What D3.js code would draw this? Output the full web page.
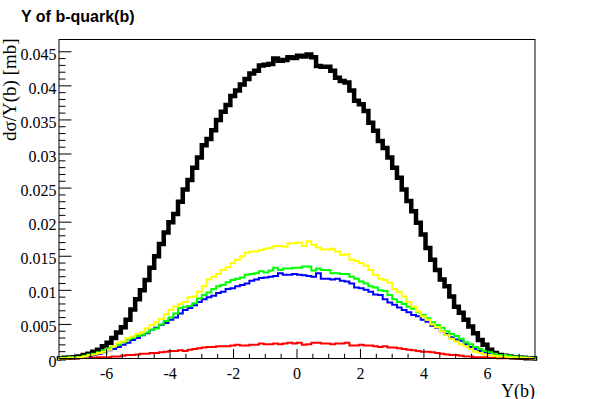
<!DOCTYPE html>
<html>
<head>
<meta charset="utf-8">
<script src="https://cdn.jsdelivr.net/npm/d3@7"></script>
<style>
  html, body { margin: 0; padding: 0; background: #fff; }
  svg { display: block; }
</style>
</head>
<body>
<div id="chart"></div>
<script>
// binning of the histograms: 100 bins over [-7.5, 7.5]
const xMin = -7.5, xMax = 7.5, nBins = 100;

const xTicks = [-6, -4, -2, 0, 2, 4, 6];
const xTickLabels = ["-6", "-4", "-2", "0", "2", "4", "6"];
const yTicks = [0, 0.005, 0.01, 0.015, 0.02, 0.025, 0.03, 0.035, 0.04, 0.045];
const yTickLabels = ["0", "0.005", "0.01", "0.015", "0.02", "0.025", "0.03", "0.035", "0.04", "0.045"];

// bin contents (dsigma/Y per bin, mb)
const black = [
  0.00005,0.0001,0.00015,0.0002,0.0003,0.0005,0.0007,0.0010,0.0013,0.0018,
  0.0023,0.0030,0.0038,0.0046,0.0057,0.0072,0.0087,0.0100,0.0115,0.0133,
  0.0150,0.0168,0.0185,0.0200,0.0212,0.0230,0.0248,0.0262,0.0280,0.0295,
  0.0313,0.0322,0.0335,0.0350,0.0362,0.0372,0.0385,0.0393,0.0402,0.0410,
  0.0418,0.0422,0.0430,0.0431,0.0432,0.0440,0.0437,0.0438,0.0442,0.0441,
  0.0444,0.0443,0.0446,0.0442,0.0429,0.0428,0.0428,0.0422,0.0412,0.0407,
  0.0405,0.0393,0.0378,0.0373,0.0363,0.0346,0.0334,0.0319,0.0309,0.0295,
  0.0280,0.0265,0.0248,0.0231,0.0216,0.0199,0.0182,0.0162,0.0145,0.0130,
  0.0116,0.0106,0.0091,0.0076,0.0067,0.0057,0.0047,0.0037,0.0027,0.0020,
  0.0013,0.0008,0.0005,0.0004,0.0003,0.0002,0.00015,0.0001,0.00005,0.00003
];
const yellow = [
  0.00005,0.00005,0.0001,0.0001,0.0002,0.0003,0.0005,0.0006,0.0008,0.0010,
  0.0013,0.0018,0.0023,0.0025,0.0030,0.0032,0.0036,0.0039,0.0044,0.0049,
  0.0053,0.0058,0.0065,0.0071,0.0076,0.0080,0.0083,0.0090,0.0091,0.0098,
  0.0106,0.0116,0.0120,0.0124,0.0130,0.0134,0.0140,0.0145,0.0150,0.0155,
  0.0157,0.0157,0.0159,0.0161,0.0162,0.0165,0.0165,0.0164,0.0169,0.0169,
  0.0170,0.0165,0.0172,0.0167,0.0163,0.0160,0.0160,0.0161,0.0157,0.0152,
  0.0153,0.0145,0.0143,0.0140,0.0136,0.0130,0.0123,0.0117,0.0115,0.0111,
  0.0102,0.0098,0.0091,0.0083,0.0076,0.0069,0.0062,0.0057,0.0050,0.0046,
  0.0040,0.0034,0.0029,0.0025,0.0021,0.0018,0.0014,0.0010,0.0008,0.0006,
  0.0005,0.0004,0.0003,0.0003,0.0002,0.0002,0.00015,0.0001,0.0001,0.00005
];
const green = [
  0.0001,0.0001,0.0002,0.0002,0.0002,0.0004,0.0006,0.0007,0.0009,0.0012,
  0.0015,0.0018,0.0020,0.0024,0.0028,0.0030,0.0033,0.0035,0.0038,0.0042,
  0.0044,0.0050,0.0055,0.0060,0.0066,0.0074,0.0076,0.0077,0.0081,0.0088,
  0.0093,0.0097,0.0102,0.0106,0.0108,0.0112,0.0115,0.0117,0.0119,0.0123,
  0.0124,0.0125,0.0128,0.0126,0.0129,0.0133,0.0130,0.0132,0.0132,0.0133,
  0.0133,0.0135,0.0135,0.0129,0.0132,0.0130,0.0130,0.0125,0.0125,0.0124,
  0.0124,0.0120,0.0117,0.0113,0.0110,0.0106,0.0104,0.0100,0.0099,0.0093,
  0.0087,0.0083,0.0080,0.0076,0.0073,0.0068,0.0064,0.0059,0.0053,0.0049,
  0.0045,0.0040,0.0036,0.0033,0.0029,0.0024,0.0021,0.0017,0.0014,0.0011,
  0.0009,0.0007,0.0005,0.0005,0.0004,0.0003,0.0003,0.0002,0.0001,0.0001
];
const blue = [
  0.0001,0.0001,0.0001,0.0002,0.0002,0.0003,0.0004,0.0005,0.0007,0.0009,
  0.0012,0.0014,0.0017,0.0020,0.0023,0.0027,0.0030,0.0034,0.0037,0.0042,
  0.0045,0.0049,0.0052,0.0057,0.0060,0.0066,0.0071,0.0074,0.0078,0.0083,
  0.0087,0.0090,0.0092,0.0096,0.0098,0.0102,0.0103,0.0106,0.0108,0.0110,
  0.0114,0.0116,0.0118,0.0119,0.0120,0.0121,0.0125,0.0123,0.0123,0.0124,
  0.0123,0.0122,0.0121,0.0120,0.0125,0.0117,0.0117,0.0116,0.0117,0.0114,
  0.0113,0.0110,0.0104,0.0103,0.0101,0.0098,0.0094,0.0093,0.0087,0.0082,
  0.0079,0.0075,0.0071,0.0068,0.0064,0.0062,0.0057,0.0054,0.0048,0.0045,
  0.0040,0.0036,0.0031,0.0028,0.0026,0.0021,0.0017,0.0014,0.0011,0.0009,
  0.0007,0.0006,0.0005,0.0004,0.0003,0.0003,0.0002,0.0002,0.0001,0.0001
];
const red = [
  0.00003,0.00003,0.00005,0.00005,0.0001,0.0001,0.0001,0.00015,0.0002,0.0002,
  0.0002,0.0003,0.0003,0.0004,0.0005,0.0005,0.0006,0.0007,0.0007,0.0008,
  0.0008,0.0009,0.0010,0.0011,0.0011,0.0012,0.0011,0.0013,0.0014,0.0015,
  0.0016,0.0017,0.0017,0.0018,0.0018,0.0018,0.0019,0.0020,0.0019,0.0019,
  0.0020,0.0020,0.0022,0.0021,0.0021,0.0022,0.0021,0.0022,0.0023,0.0022,
  0.0023,0.0020,0.0021,0.0023,0.0023,0.0022,0.0022,0.0021,0.0022,0.0022,
  0.0023,0.0019,0.0019,0.0020,0.0019,0.0019,0.0018,0.0017,0.0018,0.0016,
  0.0016,0.0015,0.0014,0.0013,0.0012,0.0011,0.0010,0.0010,0.0009,0.0008,
  0.0007,0.0006,0.0005,0.0005,0.0004,0.0003,0.0003,0.0002,0.0002,0.0002,
  0.0001,0.0001,0.00005,0.00005,0.00005,0.00005,0.00005,0.00005,0.00005,0.00005
];

const series = [
  {values: black,  color: "#000000", width: 4.5},
  {values: red,    color: "#ff0000", width: 2},
  {values: blue,   color: "#0000ff", width: 2},
  {values: green,  color: "#00ff00", width: 2},
  {values: yellow, color: "#ffff00", width: 2}
];

const width = 595, height = 399;
const m = {left: 59, right: 60, top: 39.5, bottom: 40.5};

const svg = d3.select("#chart").append("svg")
  .attr("width", width).attr("height", height);
svg.append("rect").attr("width", width).attr("height", height).attr("fill", "#fff");

const x = d3.scaleLinear().domain([xMin, xMax]).range([m.left, width - m.right]);
const y = d3.scaleLinear().domain([0, 0.0468]).range([height - m.bottom, m.top]);

// title
svg.append("text")
  .attr("x", 21).attr("y", 21.5)
  .style("font-family", "'Liberation Sans', Arial, sans-serif")
  .attr("font-weight", "bold").attr("font-size", 16)
  .text("Y of b-quark(b)");

// histograms
const binW = (xMax - xMin) / nBins;
const line = d3.line().x(d => x(d[0])).y(d => y(d[1]));
series.forEach(s => {
  const pts = [[xMin, 0]];
  s.values.forEach((v, i) => {
    pts.push([xMin + i * binW, v], [xMin + (i + 1) * binW, v]);
  });
  pts.push([xMax, 0]);
  svg.append("path")
    .attr("d", line(pts))
    .attr("fill", "none")
    .attr("stroke", s.color)
    .attr("stroke-width", s.width)
    .attr("stroke-linejoin", "miter")
    .attr("stroke-linecap", "square");
});

// frame
svg.append("rect")
  .attr("x", x(xMin)).attr("y", y.range()[1])
  .attr("width", x(xMax) - x(xMin)).attr("height", y(0) - y.range()[1])
  .attr("fill", "none").attr("stroke", "#000").attr("stroke-width", 1);

const serif = "'Liberation Serif', 'Times New Roman', serif";

// x axis ticks
const xMinor = d3.range(-7, 7.01, 0.5);
svg.append("g").selectAll("line").data(xMinor).join("line")
  .attr("x1", d => x(d)).attr("x2", d => x(d))
  .attr("y1", y(0)).attr("y2", d => y(0) - (d % 2 === 0 ? 9.5 : 4.8))
  .attr("stroke", "#000").attr("stroke-width", 1);
svg.append("g").selectAll("text").data(xTicks).join("text")
  .attr("x", d => x(d)).attr("y", y(0) + 20)
  .attr("text-anchor", "middle")
  .style("font-family", serif).attr("font-size", 16)
  .text((d, i) => xTickLabels[i]);

// y axis ticks
const yMinor = d3.range(0, 46).map(k => k * 0.001);
svg.append("g").selectAll("line").data(yMinor).join("line")
  .attr("x1", x(xMin)).attr("x2", (d, k) => x(xMin) + (k % 5 === 0 ? 12.5 : 6.5))
  .attr("y1", d => y(d)).attr("y2", d => y(d))
  .attr("stroke", "#000").attr("stroke-width", 1);
svg.append("g").selectAll("text").data(yTicks).join("text")
  .attr("x", x(xMin) - 2.5).attr("y", d => y(d) + 8)
  .attr("text-anchor", "end")
  .style("font-family", serif).attr("font-size", 16)
  .text((d, i) => yTickLabels[i]);

// axis titles
svg.append("text")
  .attr("x", x(xMax)).attr("y", 396.5)
  .attr("text-anchor", "end")
  .style("font-family", serif).attr("font-size", 18)
  .text("Y(b)");
svg.append("text")
  .attr("transform", `translate(15.5,${y.range()[1] - 1}) rotate(-90)`)
  .attr("text-anchor", "end")
  .style("font-family", serif).attr("font-size", 19)
  .text("dσ/Y(b) [mb]");
</script>
</body>
</html>
